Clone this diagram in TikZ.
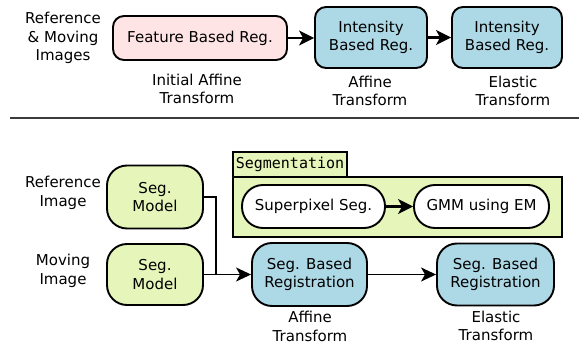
\documentclass[tikz,border=0pt]{standalone}
\usepackage{fontspec}
\setmainfont{DejaVu Sans}
\setmonofont{DejaVu Sans Mono}
\usetikzlibrary{arrows.meta,positioning}
\definecolor{pinkfill}{RGB}{255,228,230}
\definecolor{bluefill}{RGB}{173,216,230}
\definecolor{greenfill}{RGB}{230,245,185}
\definecolor{rulegray}{RGB}{60,60,60}
\begin{document}
\begin{tikzpicture}[x=1pt,y=-1pt,
  every node/.style={font=\fontsize{15}{18.5}\selectfont, align=center, inner sep=0pt},
  box/.style={draw=black, line width=1.9pt, rounded corners=11pt},
  roundbox/.style={draw=black, line width=1.9pt, rounded corners=20pt},
  lbl/.style={},
  arr/.style={-{Stealth[length=15pt,width=15pt,inset=4pt]}, line width=2.2pt},
  arrthin/.style={-{Stealth[length=15pt,width=14pt,inset=4pt]}, line width=1.6pt},
  conn/.style={line width=1.6pt}
]
\useasboundingbox (0,0) rectangle (579,345);

% ---- top row ----
\node[lbl] (inA) at (63,38) {Reference\\\& Moving\\Images};
\node[box, fill=pinkfill, minimum width=174pt, minimum height=44pt] (feat) at (200,38) {Feature Based Reg.};
\node[box, fill=bluefill, minimum width=112pt, minimum height=61pt] (int1) at (371,37.5) {Intensity\\Based Reg.};
\node[box, fill=bluefill, minimum width=110pt, minimum height=61pt] (int2) at (507,37.5) {Intensity\\Based Reg.};
\draw[arr] (feat.east) -- (int1.west |- feat.east);
\draw[arr] (int1.east) -- (int2.west);
\node[lbl] (tA) at (197,89) {Initial Affine\\Transform};
\node[lbl] (tB) at (370,91) {Affine\\Transform};
\node[lbl] (tC) at (513,91) {Elastic\\Transform};

% separator
\coordinate (sepL) at (10,118);
\coordinate (sepR) at (579,118);
\draw[rulegray, line width=1.3pt] (sepL) -- (sepR);

% ---- bottom ----
\node[lbl] (inR) at (63,193) {Reference\\Image};
\node[lbl] (inM) at (63,271) {Moving\\Image};
\node[roundbox, fill=greenfill, minimum width=96pt, minimum height=63pt] (seg1) at (155,197) {Seg.\\Model};
\node[roundbox, fill=greenfill, minimum width=96pt, minimum height=61pt] (seg2) at (155,274.5) {Seg.\\Model};

% segmentation container
\node[draw=black, line width=1.9pt, fill=greenfill, minimum width=329pt, minimum height=60pt] (cont) at (397.5,207) {};
\node[draw=black, line width=1.9pt, fill=greenfill, minimum width=114pt, minimum height=25pt, font=\ttfamily\fontsize{15}{18}\selectfont] (tab) at (290,164.5) {Segmentation};
\node[roundbox, fill=white, rounded corners=21pt, minimum width=143pt, minimum height=43pt] (sp) at (313.5,206.5) {Superpixel Seg.};
\node[roundbox, fill=white, rounded corners=21pt, minimum width=135pt, minimum height=43pt] (gmm) at (481.5,206.5) {GMM using EM};
\draw[arr] (sp.east) -- (gmm.west);

\node[roundbox, fill=bluefill, minimum width=115pt, minimum height=63pt] (sbr1) at (309.5,274.5) {Seg. Based\\Registration};
\node[roundbox, fill=bluefill, minimum width=117pt, minimum height=62pt] (sbr2) at (495.5,274.5) {Seg. Based\\Registration};

\coordinate (jn) at (216,274.5);
\draw[conn] (seg1.east) -| (jn);
\draw[arrthin] (seg2.east) -- (sbr1.west);
\draw[arrthin] (sbr1.east) -- (sbr2.west);

\node[lbl] (tD) at (310,326.5) {Affine\\Transform};
\node[lbl] (tE) at (496,326) {Elastic\\Transform};
\end{tikzpicture}
\end{document}
